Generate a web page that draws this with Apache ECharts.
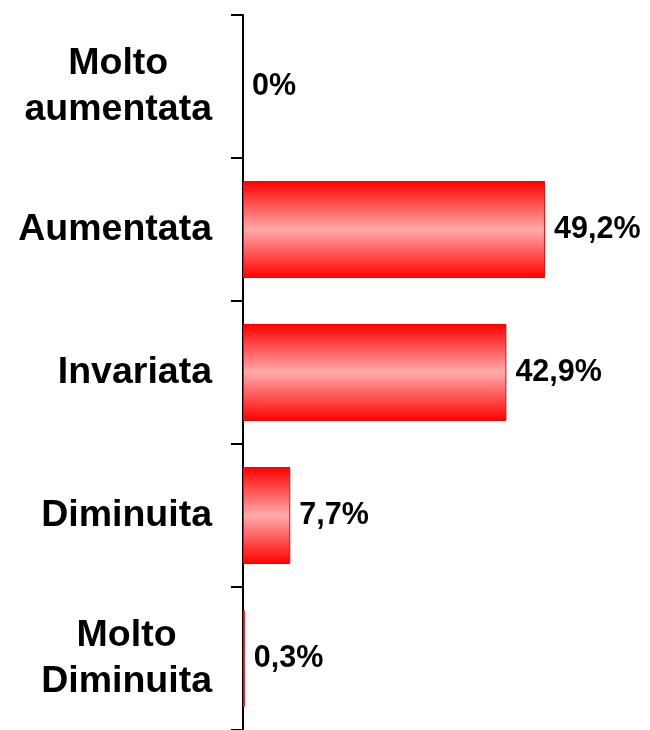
<!DOCTYPE html>
<html>
<head>
<meta charset="utf-8">
<script src="https://cdn.jsdelivr.net/npm/echarts@6/dist/echarts.min.js"></script>
<style>
    html, body { margin: 0; padding: 0; background: #fff; }
    #chart { width: 650px; height: 730px; }
</style>
</head>
<body>
<div id="chart"></div>
<script>
// categories top to bottom
const categories = ['Molto\naumentata', 'Aumentata', 'Invariata', 'Diminuita', 'Molto\nDiminuita'];
const values = [0, 49.2, 42.9, 7.7, 0.3];

const myChart = echarts.init(document.getElementById('chart'));

// no border on empty bars, otherwise a thin red line shows up
const barData = values.map(function (v) {
    return v === 0 ? { value: v, itemStyle: { borderWidth: 0 } } : v;
});

const option = {
    animation: false,
    grid: {
        left: 243,
        top: 15,
        width: 368.4,
        height: 718
    },
    xAxis: {
        type: 'value',
        min: 0,
        max: 60,
        show: false
    },
    yAxis: {
        type: 'category',
        inverse: true,
        data: categories,
        axisLine: { show: true, lineStyle: { color: '#000', width: 2 } },
        axisTick: { show: true, inside: false, length: 12, lineStyle: { color: '#000', width: 2 } },
        axisLabel: {
            margin: 31,
            color: '#000',
            formatter: function (value) {
                return value.split('\n').map(function (s) { return '{c|' + s + '}'; }).join('\n');
            },
            rich: {
                c: {
                    align: 'center',
                    fontFamily: 'Liberation Sans, Arial, sans-serif',
                    fontWeight: 'bold',
                    fontSize: 37.5,
                    lineHeight: 46,
                    color: '#000'
                }
            }
        }
    },
    series: [
        {
            type: 'bar',
            data: barData,
            barWidth: 97,
            itemStyle: {
                borderColor: '#ff0000',
                borderWidth: 1,
                color: {
                    type: 'linear',
                    x: 0, y: 0, x2: 0, y2: 1,
                    colorStops: [
                        { offset: 0, color: '#ff0000' },
                        { offset: 0.5, color: '#ffaaaa' },
                        { offset: 1, color: '#ff0000' }
                    ]
                }
            },
            label: {
                show: true,
                position: 'right',
                distance: 9,
                fontFamily: 'Liberation Sans, Arial, sans-serif',
                fontWeight: 'bold',
                fontSize: 30.5,
                color: '#000',
                formatter: function (p) {
                    return String(p.value).replace('.', ',') + '%';
                }
            }
        }
    ]
};

myChart.setOption(option);
</script>
</body>
</html>
